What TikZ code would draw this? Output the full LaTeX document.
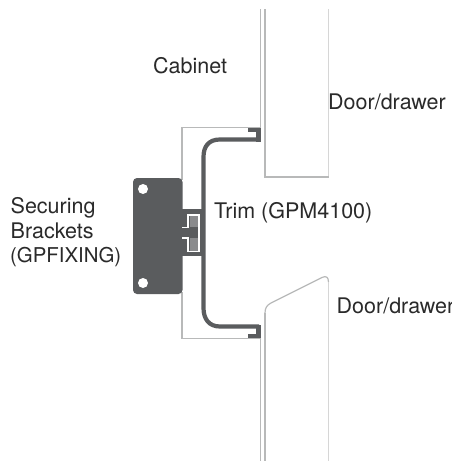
\documentclass[tikz,border=0pt]{standalone}
\usepackage{fontspec}
\setmainfont{TeX Gyre Heros}
\definecolor{dk}{HTML}{5A5C5E}
\definecolor{mid}{HTML}{8A8B8D}
\definecolor{lg}{HTML}{B8B9B9}
\definecolor{llg}{HTML}{D6D6D6}
\definecolor{tx}{HTML}{2A2A2A}
\tikzset{
  cab line/.style={draw=lg,line width=1.6pt},
  out line/.style={draw=lg,line width=1.2pt},
  door line/.style={draw=llg,line width=1pt},
  trim line/.style={draw=dk,line width=4.2pt,line join=miter},
  lbl/.style={text=tx,font=\fontsize{21.5}{26}\selectfont,inner sep=0pt,anchor=base west,align=left}
}
\begin{document}
\begin{tikzpicture}[x=1pt,y=-1pt]
\useasboundingbox (0,0) rectangle (451,461);
\fill[white] (0,0) rectangle (451,461);
% cabinet faces
\draw[cab line] (260.5,9) -- (260.5,131);
\draw[cab line] (260.5,336) -- (260.5,461);
% upper door
\draw[door line] (328.5,9) -- (328.5,177);
\draw[out line] (328.5,177) -- (265,177);
\draw[cab line] (265,9) -- (265,177.6);
% lower door
\draw[cab line] (265,461) -- (265,313);
\draw[out line] (265,313) .. controls (265,308) and (267,305) .. (271,303) -- (322,277.5) .. controls (326,275.5) and (328.5,277) .. (328.5,282);
\draw[door line] (328.5,282) -- (328.5,461);
% outline of the recess
\draw[out line] (260,127.5) -- (182,127.5) -- (182,180);
\draw[out line] (182,292) -- (182,338.5) -- (260,338.5);
% securing bracket
\fill[dk,rounded corners=4pt] (133,178) rectangle (182.5,294);
\fill[white] (143,189) circle (5pt);
\fill[white] (143,283) circle (5pt);
% clip
\fill[dk] (182,209) rectangle (203,256);
\fill[mid] (190,216) rectangle (198,250.5);
\fill[dk] (188,227) rectangle (198,238);
\draw[draw=white,line width=1.3pt] (182,227.5) -- (188,227.5) -- (188,215) -- (199,215) -- (199,251.5) -- (188,251.5) -- (188,238) -- (182,238);
% trim
\draw[trim line] (259,139.5) -- (220,139.5) .. controls (209,139.5) and (203.5,146) .. (203.5,157) -- (203.5,308) .. controls (203.5,319) and (209,326.5) .. (220,326.5) -- (259,326.5);
\draw[trim line] (248,130) -- (258.5,130) -- (258.5,141.5);
\draw[trim line] (248,336) -- (258.5,336) -- (258.5,324.5);
% labels
\node[lbl] (cab) at (153,73) {Cabinet};
\node[lbl] (d1) at (328,109) {Door/drawer};
\node[lbl] (d2) at (336.5,313) {Door/drawer};
\node[lbl] (trim) at (214,218) {Trim (GPM4100)};
\node[lbl] (s1) at (10.5,213) {Securing};
\node[lbl] (s2) at (10.5,238) {Brackets};
\node[lbl,font=\fontsize{20.4}{25}\selectfont] (s3) at (10,262.5) {(GPFIXING)};
\end{tikzpicture}
\end{document}
